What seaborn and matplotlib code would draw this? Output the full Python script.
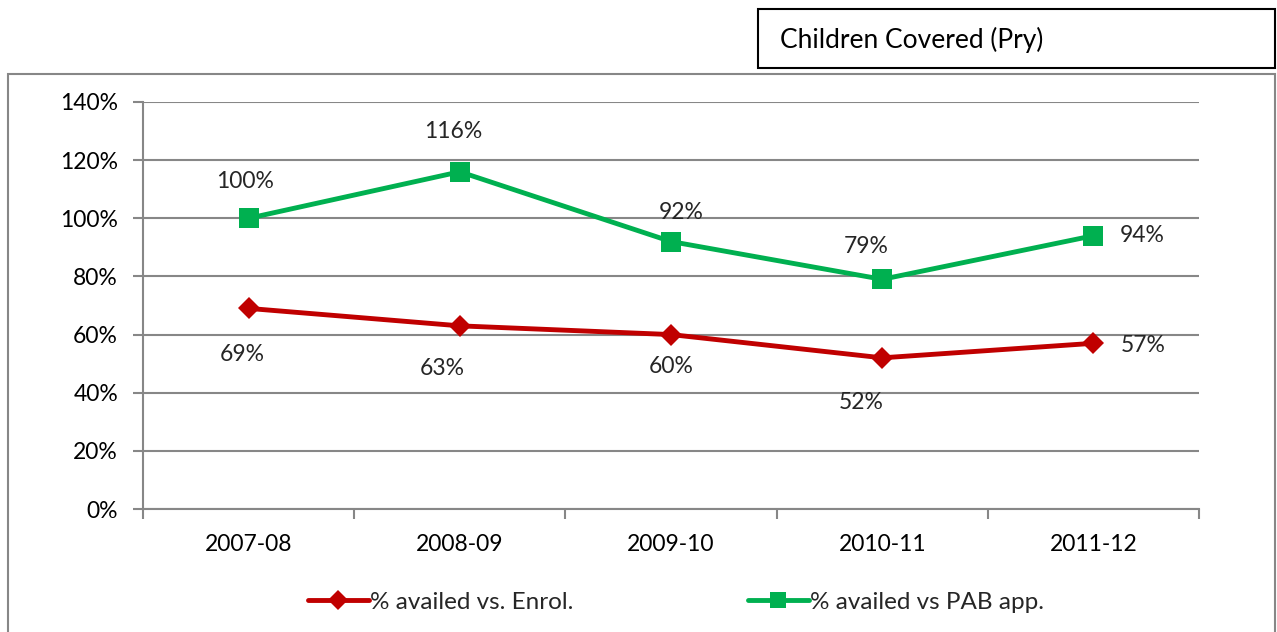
import matplotlib
matplotlib.use("Agg")
import matplotlib.pyplot as plt
from matplotlib.patches import Rectangle
from matplotlib.ticker import FixedLocator, PercentFormatter
import pandas as pd
import seaborn as sns

# Data
years = ["2007-08", "2008-09", "2009-10", "2010-11", "2011-12"]
vs_enrol = [69, 63, 60, 52, 57]
vs_pab = [100, 116, 92, 79, 94]
series_names = ["% availed vs. Enrol.", "% availed vs PAB app."]
y_ticks = [0, 20, 40, 60, 80, 100, 120, 140]

sns.set_theme(style="white")
plt.rcParams["font.family"] = ["Lato", "DejaVu Sans"]

df = pd.DataFrame({
    "year": years * 2,
    "pos": list(range(len(years))) * 2,
    "value": vs_enrol + vs_pab,
    "series": [series_names[0]] * len(years) + [series_names[1]] * len(years),
})

red = "#C00000"
green = "#00B050"
grid_col = "#878787"
FS = 16.5

W, H = 1277, 632
fig = plt.figure(figsize=(W / 100, H / 100), dpi=100)

# Outer chart frame
fig.patches.append(Rectangle((8 / W, -0.02), (1275 - 8) / W, 0.02 + (H - 74) / H,
                             transform=fig.transFigure, fill=False, edgecolor=grid_col,
                             linewidth=1.5, zorder=0))
# Title box
fig.patches.append(Rectangle((758 / W, (H - 68) / H), (1275 - 758) / W, 59 / H,
                             transform=fig.transFigure, fill=False, edgecolor="black",
                             linewidth=1.5, zorder=0))
fig.text(780 / W, (H - 40) / H, "Children Covered (Pry)", fontsize=19,
         va="center", ha="left", color="black")

ax = fig.add_axes([143 / W, (H - 509) / H, (1199 - 143) / W, (509 - 102) / H])

sns.lineplot(data=df, x="pos", y="value", hue="series", style="series",
             palette=[red, green], markers=["D", "s"], dashes=False,
             linewidth=3.5, markersize=13, markeredgewidth=0, ax=ax, legend=False)
# diamond slightly smaller than the square
ax.lines[0].set_markersize(11)
ax.lines[1].set_markersize(14)

ax.set_xlim(-0.5, len(years) - 0.5)
ax.set_ylim(0, 140)
ax.yaxis.set_major_locator(FixedLocator(y_ticks))
ax.yaxis.set_major_formatter(PercentFormatter(decimals=0))
ax.set_xticks(range(len(years)))
ax.set_xticklabels(years)
ax.xaxis.set_minor_locator(FixedLocator([i - 0.5 for i in range(len(years) + 1)]))
ax.tick_params(axis="x", which="major", length=0, pad=18, labelsize=FS, colors="black")
ax.tick_params(axis="x", which="minor", length=7, width=1.5, color=grid_col, bottom=True)
ax.tick_params(axis="y", which="major", length=7, width=1.5, color=grid_col, left=True,
               labelsize=FS, pad=11, labelcolor="black")
ax.set_xlabel("")
ax.set_ylabel("")
ax.grid(axis="y", color=grid_col, linewidth=1.5)
ax.grid(axis="x", visible=False)
for side in ["top", "right"]:
    ax.spines[side].set_visible(False)
for side in ["left", "bottom"]:
    ax.spines[side].set_color(grid_col)
    ax.spines[side].set_linewidth(1.5)
ax.set_axisbelow(True)

# Value labels (pixel offsets from each marker)
pab_offsets = [(-4, 37), (-7, 40), (10, 29), (-16, 33)]
enrol_offsets = [(-6, -46), (-18, -43), (0, -32), (-21, -45)]
n = len(years)
for i, (r, g) in enumerate(zip(vs_enrol, vs_pab)):
    if i < n - 1:
        ax.annotate(f"{g}%", (i, g), xytext=pab_offsets[i], textcoords="offset pixels",
                    ha="center", va="center", fontsize=FS)
        ax.annotate(f"{r}%", (i, r), xytext=enrol_offsets[i], textcoords="offset pixels",
                    ha="center", va="center", fontsize=FS)
    else:
        ax.annotate(f"{g}%", (i, g), xytext=(26, 0), textcoords="offset pixels",
                    ha="left", va="center", fontsize=FS)
        ax.annotate(f"{r}%", (i, r), xytext=(27, -2), textcoords="offset pixels",
                    ha="left", va="center", fontsize=FS)

# Legend entries
handles = [
    plt.Line2D([], [], color=red, linewidth=3.5, marker="D", markersize=10, markeredgewidth=0),
    plt.Line2D([], [], color=green, linewidth=3.5, marker="s", markersize=12, markeredgewidth=0),
]
for h, name, x0 in zip(handles, series_names, [308, 748]):
    fig.legend([h], [name], loc="center left", bbox_to_anchor=(x0 / W, (H - 602) / H),
               frameon=False, fontsize=17.5, handlelength=2.5, handletextpad=0.05,
               borderpad=0, borderaxespad=0)

fig.savefig("out.png", dpi=100)
